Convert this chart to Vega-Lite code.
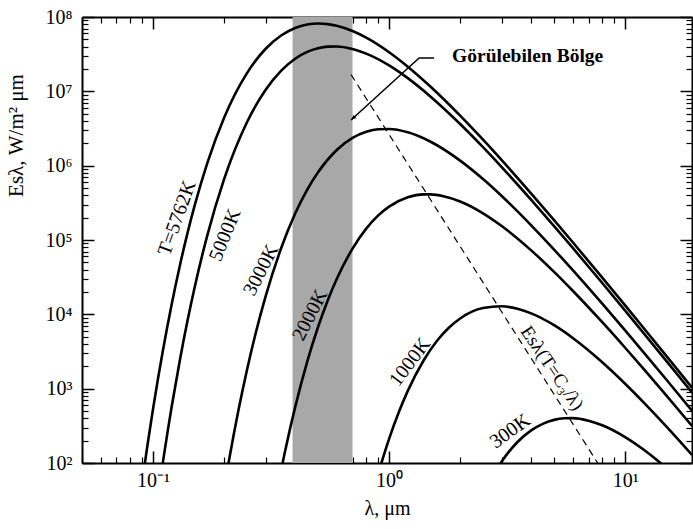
{
  "$schema": "https://vega.github.io/schema/vega-lite/v6.json",
  "width": 610,
  "height": 446,
  "autosize": "none",
  "padding": {"left": 82, "top": 17, "right": 1, "bottom": 66},
  "background": "white",
  "config": {
    "view": {"stroke": null},
    "font": "Liberation Serif",
    "axis": {"domainColor": "black", "tickColor": "black", "labelColor": "black", "titleColor": "black", "grid": false, "labelFont": "Liberation Serif", "titleFont": "Liberation Serif", "titleFontWeight": "normal"}
  },
  "datasets": {
    "band": [{"x0": 0.39, "x1": 0.7, "y0": 100, "y1": 100000000}],
    "curves": [
      {"T": "5762", "lam": 0.09, "E": 56.6},
      {"T": "5762", "lam": 0.095, "E": 185.9},
      {"T": "5762", "lam": 0.1, "E": 535.5},
      {"T": "5762", "lam": 0.105, "E": 1378},
      {"T": "5762", "lam": 0.11, "E": 3218},
      {"T": "5762", "lam": 0.12, "E": 13804},
      {"T": "5762", "lam": 0.13, "E": 45860},
      {"T": "5762", "lam": 0.14, "E": 124900},
      {"T": "5762", "lam": 0.15, "E": 290300},
      {"T": "5762", "lam": 0.17, "E": 1101000},
      {"T": "5762", "lam": 0.2, "E": 4423000},
      {"T": "5762", "lam": 0.25, "E": 17600000},
      {"T": "5762", "lam": 0.3, "E": 37390000},
      {"T": "5762", "lam": 0.35, "E": 56820000},
      {"T": "5762", "lam": 0.4, "E": 71210000},
      {"T": "5762", "lam": 0.45, "E": 79230000},
      {"T": "5762", "lam": 0.5, "E": 81700000},
      {"T": "5762", "lam": 0.55, "E": 80200000},
      {"T": "5762", "lam": 0.6, "E": 76170000},
      {"T": "5762", "lam": 0.7, "E": 64700000},
      {"T": "5762", "lam": 0.8, "E": 52670000},
      {"T": "5762", "lam": 1.0, "E": 33570000},
      {"T": "5762", "lam": 1.2, "E": 21450000},
      {"T": "5762", "lam": 1.5, "E": 11500000},
      {"T": "5762", "lam": 2, "E": 4705000},
      {"T": "5762", "lam": 2.5, "E": 2234000},
      {"T": "5762", "lam": 3, "E": 1186000},
      {"T": "5762", "lam": 4, "E": 421600},
      {"T": "5762", "lam": 5, "E": 184800},
      {"T": "5762", "lam": 6, "E": 93240},
      {"T": "5762", "lam": 8, "E": 31170},
      {"T": "5762", "lam": 10, "E": 13190},
      {"T": "5762", "lam": 12, "E": 6501},
      {"T": "5762", "lam": 15, "E": 2720},
      {"T": "5762", "lam": 19.2, "E": 1032},
      {"T": "5000", "lam": 0.108, "E": 68.3},
      {"T": "5000", "lam": 0.11, "E": 101.2},
      {"T": "5000", "lam": 0.115, "E": 252.5},
      {"T": "5000", "lam": 0.12, "E": 579.3},
      {"T": "5000", "lam": 0.13, "E": 2456},
      {"T": "5000", "lam": 0.14, "E": 8241},
      {"T": "5000", "lam": 0.15, "E": 22970},
      {"T": "5000", "lam": 0.17, "E": 117400},
      {"T": "5000", "lam": 0.2, "E": 659700},
      {"T": "5000", "lam": 0.25, "E": 3841000},
      {"T": "5000", "lam": 0.3, "E": 10510000},
      {"T": "5000", "lam": 0.35, "E": 19150000},
      {"T": "5000", "lam": 0.4, "E": 27470000},
      {"T": "5000", "lam": 0.45, "E": 33940000},
      {"T": "5000", "lam": 0.5, "E": 38020000},
      {"T": "5000", "lam": 0.55, "E": 39920000},
      {"T": "5000", "lam": 0.6, "E": 40090000},
      {"T": "5000", "lam": 0.7, "E": 37100000},
      {"T": "5000", "lam": 0.8, "E": 32180000},
      {"T": "5000", "lam": 1.0, "E": 22320000},
      {"T": "5000", "lam": 1.2, "E": 15040000},
      {"T": "5000", "lam": 1.5, "E": 8480000},
      {"T": "5000", "lam": 2, "E": 3636000},
      {"T": "5000", "lam": 2.5, "E": 1773000},
      {"T": "5000", "lam": 3, "E": 956800},
      {"T": "5000", "lam": 4, "E": 346900},
      {"T": "5000", "lam": 5, "E": 153900},
      {"T": "5000", "lam": 6, "E": 78210},
      {"T": "5000", "lam": 8, "E": 26380},
      {"T": "5000", "lam": 10, "E": 11220},
      {"T": "5000", "lam": 12, "E": 5549},
      {"T": "5000", "lam": 15, "E": 2330},
      {"T": "5000", "lam": 19.2, "E": 887},
      {"T": "3000", "lam": 0.205, "E": 71.4},
      {"T": "3000", "lam": 0.21, "E": 110.6},
      {"T": "3000", "lam": 0.22, "E": 247.4},
      {"T": "3000", "lam": 0.23, "E": 511},
      {"T": "3000", "lam": 0.25, "E": 1786},
      {"T": "3000", "lam": 0.27, "E": 5035},
      {"T": "3000", "lam": 0.3, "E": 17560},
      {"T": "3000", "lam": 0.35, "E": 79730},
      {"T": "3000", "lam": 0.4, "E": 226800},
      {"T": "3000", "lam": 0.45, "E": 477000},
      {"T": "3000", "lam": 0.5, "E": 817500},
      {"T": "3000", "lam": 0.6, "E": 1626000},
      {"T": "3000", "lam": 0.7, "E": 2359000},
      {"T": "3000", "lam": 0.8, "E": 2853000},
      {"T": "3000", "lam": 0.9, "E": 3089000},
      {"T": "3000", "lam": 1.0, "E": 3119000},
      {"T": "3000", "lam": 1.2, "E": 2815000},
      {"T": "3000", "lam": 1.5, "E": 2099000},
      {"T": "3000", "lam": 2, "E": 1169000},
      {"T": "3000", "lam": 2.5, "E": 659500},
      {"T": "3000", "lam": 3, "E": 390200},
      {"T": "3000", "lam": 4, "E": 157700},
      {"T": "3000", "lam": 5, "E": 74390},
      {"T": "3000", "lam": 6, "E": 39310},
      {"T": "3000", "lam": 8, "E": 13910},
      {"T": "3000", "lam": 10, "E": 6081},
      {"T": "3000", "lam": 12, "E": 3061},
      {"T": "3000", "lam": 15, "E": 1308},
      {"T": "3000", "lam": 19.2, "E": 505},
      {"T": "2000", "lam": 0.345, "E": 67.3},
      {"T": "2000", "lam": 0.36, "E": 129.7},
      {"T": "2000", "lam": 0.38, "E": 283.3},
      {"T": "2000", "lam": 0.4, "E": 565},
      {"T": "2000", "lam": 0.45, "E": 2313},
      {"T": "2000", "lam": 0.5, "E": 6754},
      {"T": "2000", "lam": 0.55, "E": 15510},
      {"T": "2000", "lam": 0.6, "E": 29870},
      {"T": "2000", "lam": 0.7, "E": 76640},
      {"T": "2000", "lam": 0.8, "E": 142100},
      {"T": "2000", "lam": 0.9, "E": 214100},
      {"T": "2000", "lam": 1.0, "E": 281200},
      {"T": "2000", "lam": 1.2, "E": 375600},
      {"T": "2000", "lam": 1.4, "E": 410800},
      {"T": "2000", "lam": 1.5, "E": 410600},
      {"T": "2000", "lam": 1.7, "E": 388500},
      {"T": "2000", "lam": 2, "E": 329500},
      {"T": "2000", "lam": 2.5, "E": 228500},
      {"T": "2000", "lam": 3, "E": 154000},
      {"T": "2000", "lam": 4, "E": 72520},
      {"T": "2000", "lam": 5, "E": 37230},
      {"T": "2000", "lam": 6, "E": 20770},
      {"T": "2000", "lam": 8, "E": 7834},
      {"T": "2000", "lam": 10, "E": 3552},
      {"T": "2000", "lam": 12, "E": 1831},
      {"T": "2000", "lam": 15, "E": 801},
      {"T": "2000", "lam": 19.2, "E": 315.6},
      {"T": "1000", "lam": 0.9, "E": 72.3},
      {"T": "1000", "lam": 0.95, "E": 127.9},
      {"T": "1000", "lam": 1.0, "E": 211.1},
      {"T": "1000", "lam": 1.1, "E": 484.7},
      {"T": "1000", "lam": 1.2, "E": 933},
      {"T": "1000", "lam": 1.4, "E": 2395},
      {"T": "1000", "lam": 1.6, "E": 4438},
      {"T": "1000", "lam": 1.8, "E": 6689},
      {"T": "1000", "lam": 2, "E": 8790},
      {"T": "1000", "lam": 2.5, "E": 12170},
      {"T": "1000", "lam": 3, "E": 12830},
      {"T": "1000", "lam": 3.5, "E": 11870},
      {"T": "1000", "lam": 4, "E": 10300},
      {"T": "1000", "lam": 5, "E": 7141},
      {"T": "1000", "lam": 6, "E": 4812},
      {"T": "1000", "lam": 8, "E": 2266},
      {"T": "1000", "lam": 10, "E": 1164},
      {"T": "1000", "lam": 12, "E": 649},
      {"T": "1000", "lam": 15, "E": 306},
      {"T": "1000", "lam": 19.2, "E": 128.5},
      {"T": "300", "lam": 2.9, "E": 89.5},
      {"T": "300", "lam": 3, "E": 105.1},
      {"T": "300", "lam": 3.5, "E": 191.6},
      {"T": "300", "lam": 4, "E": 274.7},
      {"T": "300", "lam": 4.5, "E": 339.2},
      {"T": "300", "lam": 5, "E": 380.3},
      {"T": "300", "lam": 5.5, "E": 399.3},
      {"T": "300", "lam": 6, "E": 401},
      {"T": "300", "lam": 7, "E": 371},
      {"T": "300", "lam": 8, "E": 321.8},
      {"T": "300", "lam": 10, "E": 223.2},
      {"T": "300", "lam": 12, "E": 150.4},
      {"T": "300", "lam": 14, "E": 102.2},
      {"T": "300", "lam": 15, "E": 84.8}
    ],
    "wien": [{"lam": 0.69, "E": 16810000}, {"lam": 7.65, "E": 100}],
    "arrow": [{"lam": 1.551, "E": 28060000}, {"lam": 1.34, "E": 28060000}, {"lam": 0.69, "E": 4109000}],
    "arrowhead": [{"lam": 0.69, "E": 4109000}],
    "region": [{"lam": 1.849, "E": 29800000, "label": "Görülebilen Bölge"}],
    "l5762": [{"lam": 0.1264, "E": 197100, "label": "T=5762K"}],
    "l5000": [{"lam": 0.2019, "E": 116400, "label": "5000K"}],
    "l3000": [{"lam": 0.2869, "E": 39400, "label": "3000K"}],
    "l2000": [{"lam": 0.4626, "E": 9760, "label": "2000K"}],
    "l1000": [{"lam": 1.227, "E": 2275, "label": "1000K"}],
    "l300": [{"lam": 3.256, "E": 268, "label": "300K"}],
    "lwien": [{"lam": 4.907, "E": 1888, "label": "Esλ(T=C₃/λ)"}]
  },
  "resolve": {"axis": {"x": "independent", "y": "independent"}},
  "layer": [
    {
      "data": {"name": "band"},
      "mark": {"type": "rect", "fill": "#a8a8a8"},
      "encoding": {
        "x": {"field": "x0", "type": "quantitative", "scale": {"type": "log", "domain": [0.05, 19.2], "nice": false},
          "axis": {"orient": "bottom", "values": [0.1, 1, 10], "labelExpr": "datum.value < 0.5 ? '10⁻¹' : datum.value < 5 ? '10⁰' : '10¹'", "tickSize": -12, "tickWidth": 1.5, "domainWidth": 2, "labelFontSize": 20, "labelPadding": 19, "labelBaseline": "top", "title": "λ, μm", "titleFontSize": 20, "titleX": 305, "titleY": 45, "titleBaseline": "middle", "titleAlign": "center", "titleAnchor": null}},
        "x2": {"field": "x1"},
        "y": {"field": "y0", "type": "quantitative", "scale": {"type": "log", "domain": [100, 100000000], "nice": false},
          "axis": {"orient": "left", "values": [100, 1000, 10000, 100000, 1000000, 10000000, 100000000], "labelExpr": "datum.value < 500 ? '10²' : datum.value < 5000 ? '10³' : datum.value < 50000 ? '10⁴' : datum.value < 500000 ? '10⁵' : datum.value < 5000000 ? '10⁶' : datum.value < 50000000 ? '10⁷' : '10⁸'", "tickSize": -12, "tickWidth": 1.5, "domainWidth": 2, "labelFontSize": 20, "labelPadding": 22, "labelAlign": "right", "labelBaseline": "middle", "title": "Esλ, W/m² μm", "titleFontSize": 21, "titleAngle": 270, "titleX": -66, "titleY": 118, "titleAlign": "center", "titleBaseline": "middle", "titleAnchor": null}},
        "y2": {"field": "y1"}
      }
    },
    {
      "data": {"name": "curves"},
      "mark": {"type": "line", "color": "black", "strokeWidth": 2.6, "interpolate": "monotone", "clip": true},
      "encoding": {
        "x": {"field": "lam", "type": "quantitative", "scale": {"type": "log", "domain": [0.05, 19.2], "nice": false},
          "axis": {"orient": "bottom", "values": [0.05, 0.06, 0.07, 0.08, 0.09, 0.2, 0.3, 0.4, 0.5, 0.6, 0.7, 0.8, 0.9, 2, 3, 4, 5, 6, 7, 8, 9], "labels": false, "domain": false, "tickSize": -6, "tickWidth": 1.2, "title": null}},
        "y": {"field": "E", "type": "quantitative", "scale": {"type": "log", "domain": [100, 100000000], "nice": false},
          "axis": {"orient": "left", "values": [200, 300, 400, 500, 600, 700, 800, 900, 2000, 3000, 4000, 5000, 6000, 7000, 8000, 9000, 20000, 30000, 40000, 50000, 60000, 70000, 80000, 90000, 200000, 300000, 400000, 500000, 600000, 700000, 800000, 900000, 2000000, 3000000, 4000000, 5000000, 6000000, 7000000, 8000000, 9000000, 20000000, 30000000, 40000000, 50000000, 60000000, 70000000, 80000000, 90000000], "labels": false, "domain": false, "tickSize": -6, "tickWidth": 1.2, "title": null}},
        "detail": {"field": "T", "type": "nominal"}
      }
    },
    {
      "data": {"name": "wien"},
      "mark": {"type": "line", "color": "black", "strokeWidth": 1.2, "strokeDash": [7, 5], "clip": true},
      "encoding": {
        "x": {"field": "lam", "type": "quantitative", "scale": {"type": "log", "domain": [0.05, 19.2], "nice": false},
          "axis": {"orient": "top", "values": [0.1, 1, 10], "labels": false, "tickSize": -12, "tickWidth": 1.5, "domainWidth": 2, "title": null}},
        "y": {"field": "E", "type": "quantitative", "scale": {"type": "log", "domain": [100, 100000000], "nice": false},
          "axis": {"orient": "right", "values": [100, 1000, 10000, 100000, 1000000, 10000000, 100000000], "labels": false, "tickSize": -12, "tickWidth": 1.5, "domainWidth": 2, "title": null}}
      }
    },
    {
      "data": {"name": "arrow"},
      "mark": {"type": "line", "color": "black", "strokeWidth": 1.5},
      "encoding": {
        "x": {"field": "lam", "type": "quantitative", "scale": {"type": "log", "domain": [0.05, 19.2], "nice": false},
          "axis": {"orient": "top", "values": [0.05, 0.06, 0.07, 0.08, 0.09, 0.2, 0.3, 0.4, 0.5, 0.6, 0.7, 0.8, 0.9, 2, 3, 4, 5, 6, 7, 8, 9], "labels": false, "domain": false, "tickSize": -6, "tickWidth": 1.2, "title": null}},
        "y": {"field": "E", "type": "quantitative", "scale": {"type": "log", "domain": [100, 100000000], "nice": false},
          "axis": {"orient": "right", "values": [200, 300, 400, 500, 600, 700, 800, 900, 2000, 3000, 4000, 5000, 6000, 7000, 8000, 9000, 20000, 30000, 40000, 50000, 60000, 70000, 80000, 90000, 200000, 300000, 400000, 500000, 600000, 700000, 800000, 900000, 2000000, 3000000, 4000000, 5000000, 6000000, 7000000, 8000000, 9000000, 20000000, 30000000, 40000000, 50000000, 60000000, 70000000, 80000000, 90000000], "labels": false, "domain": false, "tickSize": -6, "tickWidth": 1.2, "title": null}}
      }
    },
    {
      "data": {"name": "arrowhead"},
      "mark": {"type": "point", "shape": "M0,0L-0.38,1L0.38,1Z", "filled": true, "color": "black", "opacity": 1, "size": 110, "angle": 228},
      "encoding": {
        "x": {"field": "lam", "type": "quantitative", "scale": {"type": "log", "domain": [0.05, 19.2], "nice": false}, "axis": null},
        "y": {"field": "E", "type": "quantitative", "scale": {"type": "log", "domain": [100, 100000000], "nice": false}, "axis": null}
      }
    },
    {
      "data": {"name": "region"},
      "mark": {"type": "text", "font": "Liberation Serif", "fontSize": 19.5, "fontWeight": "bold", "align": "left", "baseline": "middle", "color": "black"},
      "encoding": {
        "x": {"field": "lam", "type": "quantitative", "scale": {"type": "log", "domain": [0.05, 19.2], "nice": false}, "axis": null},
        "y": {"field": "E", "type": "quantitative", "scale": {"type": "log", "domain": [100, 100000000], "nice": false}, "axis": null},
        "text": {"field": "label"}
      }
    },
    {
      "data": {"name": "l5762"},
      "mark": {"type": "text", "font": "Liberation Serif", "fontSize": 20, "angle": 290, "align": "center", "baseline": "middle", "color": "black"},
      "encoding": {
        "x": {"field": "lam", "type": "quantitative", "scale": {"type": "log", "domain": [0.05, 19.2], "nice": false}, "axis": null},
        "y": {"field": "E", "type": "quantitative", "scale": {"type": "log", "domain": [100, 100000000], "nice": false}, "axis": null},
        "text": {"field": "label"}
      }
    },
    {
      "data": {"name": "l5000"},
      "mark": {"type": "text", "font": "Liberation Serif", "fontSize": 20, "angle": 292, "align": "center", "baseline": "middle", "color": "black"},
      "encoding": {
        "x": {"field": "lam", "type": "quantitative", "scale": {"type": "log", "domain": [0.05, 19.2], "nice": false}, "axis": null},
        "y": {"field": "E", "type": "quantitative", "scale": {"type": "log", "domain": [100, 100000000], "nice": false}, "axis": null},
        "text": {"field": "label"}
      }
    },
    {
      "data": {"name": "l3000"},
      "mark": {"type": "text", "font": "Liberation Serif", "fontSize": 20, "angle": 297, "align": "center", "baseline": "middle", "color": "black"},
      "encoding": {
        "x": {"field": "lam", "type": "quantitative", "scale": {"type": "log", "domain": [0.05, 19.2], "nice": false}, "axis": null},
        "y": {"field": "E", "type": "quantitative", "scale": {"type": "log", "domain": [100, 100000000], "nice": false}, "axis": null},
        "text": {"field": "label"}
      }
    },
    {
      "data": {"name": "l2000"},
      "mark": {"type": "text", "font": "Liberation Serif", "fontSize": 20, "angle": 297, "align": "center", "baseline": "middle", "color": "black"},
      "encoding": {
        "x": {"field": "lam", "type": "quantitative", "scale": {"type": "log", "domain": [0.05, 19.2], "nice": false}, "axis": null},
        "y": {"field": "E", "type": "quantitative", "scale": {"type": "log", "domain": [100, 100000000], "nice": false}, "axis": null},
        "text": {"field": "label"}
      }
    },
    {
      "data": {"name": "l1000"},
      "mark": {"type": "text", "font": "Liberation Serif", "fontSize": 20, "angle": 307, "align": "center", "baseline": "middle", "color": "black"},
      "encoding": {
        "x": {"field": "lam", "type": "quantitative", "scale": {"type": "log", "domain": [0.05, 19.2], "nice": false}, "axis": null},
        "y": {"field": "E", "type": "quantitative", "scale": {"type": "log", "domain": [100, 100000000], "nice": false}, "axis": null},
        "text": {"field": "label"}
      }
    },
    {
      "data": {"name": "l300"},
      "mark": {"type": "text", "font": "Liberation Serif", "fontSize": 20, "angle": 324, "align": "center", "baseline": "middle", "color": "black"},
      "encoding": {
        "x": {"field": "lam", "type": "quantitative", "scale": {"type": "log", "domain": [0.05, 19.2], "nice": false}, "axis": null},
        "y": {"field": "E", "type": "quantitative", "scale": {"type": "log", "domain": [100, 100000000], "nice": false}, "axis": null},
        "text": {"field": "label"}
      }
    },
    {
      "data": {"name": "lwien"},
      "mark": {"type": "text", "font": "Liberation Serif", "fontSize": 19, "angle": 56, "align": "center", "baseline": "middle", "color": "black"},
      "encoding": {
        "x": {"field": "lam", "type": "quantitative", "scale": {"type": "log", "domain": [0.05, 19.2], "nice": false}, "axis": null},
        "y": {"field": "E", "type": "quantitative", "scale": {"type": "log", "domain": [100, 100000000], "nice": false}, "axis": null},
        "text": {"field": "label"}
      }
    }
  ]
}
